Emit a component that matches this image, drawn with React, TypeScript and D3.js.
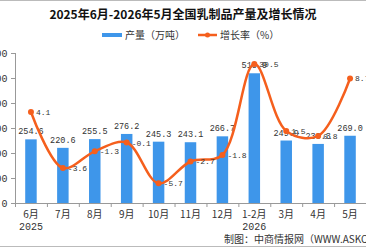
import React from "react";
import * as d3 from "d3";

// monthly dairy output (10k tonnes) and year-on-year growth (%)
const categories = ["6月", "7月", "8月", "9月", "10月", "11月", "12月", "1-2月", "3月", "4月", "5月"];
const yearLabels = ["2025", "", "", "", "", "", "", "2026", "", "", ""];
const output = [254.6, 220.6, 255.5, 276.2, 245.3, 243.1, 266.7, 518.9, 249.9, 236.3, 269.0];
const growth = [4.1, -3.6, -1.3, -0.1, -5.7, -2.7, -1.8, 30.5, 1.5, 0.8, 8.7];
const yTicks = [0, 100, 200, 300, 400, 500, 600];

const W = 366;
const H = 248;
const barColor = "#3E96EA";
const lineColor = "#F55F1D";
const numFont = "'Liberation Mono', 'DejaVu Sans Mono', monospace";
const cjkFont = "'Noto Sans CJK SC', sans-serif";

const App = () => {
  const left = 15;
  const top = 53;
  const bottom = 203;

  const x = d3.scaleBand<string>().domain(categories).range([left, W]).paddingInner(0.64).paddingOuter(0.32);
  const y = d3.scaleLinear().domain([0, 600]).range([bottom, top]);
  // hidden right axis, upper part squeezed so the 1-2月 peak stays inside the plot
  const yRate = d3.scaleLinear().domain([-8.4, 10, 31]).range([bottom, 69, 64]);

  const step = x.step();
  const cx = (c: string) => (x(c) ?? 0) + x.bandwidth() / 2;

  const pts: [number, number][] = categories.map((c, i) => [cx(c), yRate(growth[i])]);
  const line = d3.line().curve(d3.curveCatmullRom.alpha(0.5));

  const boundaries = d3.range(categories.length + 1).map((i) => left + i * step);

  return (
    <svg width={W} height={H} style={{ position: "absolute", left: 0, top: 0, background: "#fff" }}>
      <line x1={0} x2={W} y1={0.5} y2={0.5} stroke="#bbb" />
      <line x1={0} x2={W} y1={246.5} y2={246.5} stroke="#bbb" />
      <text x={183} y={19} textAnchor="middle" fontSize={12} fontWeight="bold" fontFamily={cjkFont} fill="#111">
        2025年6月-2026年5月全国乳制品产量及增长情况
      </text>

      {/* legend */}
      <rect x={102} y={33} width={20} height={4} fill={barColor} />
      <text x={125} y={38.5} fontSize={10} fontFamily={cjkFont} fill="#333">产量（万吨）</text>
      <line x1={198} x2={217} y1={35} y2={35} stroke={lineColor} strokeWidth={2.5} />
      <circle cx={207.5} cy={35} r={2.5} fill={lineColor} />
      <text x={220} y={38.5} fontSize={10} fontFamily={cjkFont} fill="#333">增长率（%）</text>

      {/* y axis */}
      <line x1={left + 0.5} x2={left + 0.5} y1={top} y2={bottom} stroke="#999" />
      {yTicks.map((t) => (
        <g key={t}>
          <line x1={left - 4} x2={left} y1={y(t) + 0.5} y2={y(t) + 0.5} stroke="#999" />
          <text x={7.5} y={y(t) + 3.5} textAnchor="end" fontSize={10} fontFamily={numFont} fill="#333">{t}</text>
        </g>
      ))}

      {/* bars */}
      {categories.map((c, i) => (
        <g key={c}>
          <rect x={x(c)} y={y(output[i])} width={x.bandwidth()} height={bottom - y(output[i])} fill={barColor} />
          <text x={cx(c)} y={y(output[i]) - 5} textAnchor="middle" fontSize={8.5} fontFamily={numFont} fill="#333">
            {output[i].toFixed(1)}
          </text>
        </g>
      ))}

      {/* x axis */}
      <line x1={left} x2={W} y1={bottom + 0.5} y2={bottom + 0.5} stroke="#999" />
      {boundaries.map((bx, i) => (
        <line key={i} x1={bx + 0.5} x2={bx + 0.5} y1={bottom} y2={bottom + 4} stroke="#999" />
      ))}
      {categories.map((c, i) => (
        <g key={c}>
          <text x={cx(c)} y={218} textAnchor="middle" fontSize={10} fontFamily={cjkFont} fill="#333">{c}</text>
          {yearLabels[i] && (
            <text x={cx(c)} y={230} textAnchor="middle" fontSize={10} fontFamily={numFont} fill="#333">{yearLabels[i]}</text>
          )}
        </g>
      ))}

      {/* growth line */}
      <path d={line(pts) ?? ""} fill="none" stroke={lineColor} strokeWidth={2.5} />
      {pts.map(([px, py], i) => (
        <g key={i}>
          <circle cx={px} cy={py} r={3} fill={lineColor} />
          <text x={px + 5} y={py + 3} fontSize={8} fontFamily={numFont} fill="#333">{growth[i].toFixed(1)}</text>
        </g>
      ))}

      <text x={224} y={243} fontSize={10} fontFamily={cjkFont} fill="#333">制图：中商情报网（WWW.ASKCI.COM）</text>
    </svg>
  );
};

export default App;
